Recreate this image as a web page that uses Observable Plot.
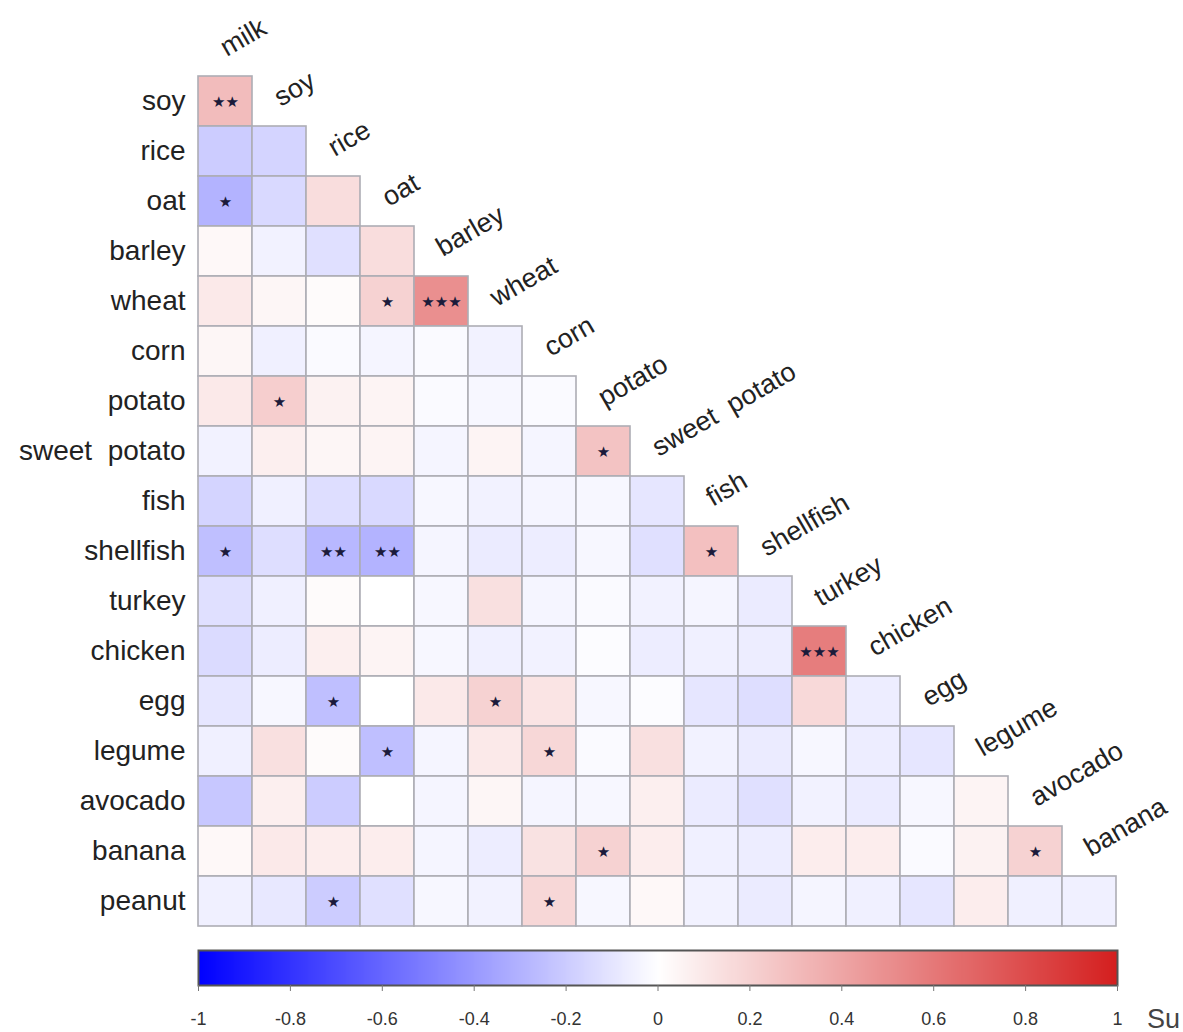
<!DOCTYPE html>
<html>
<head>
<meta charset="utf-8">
<script src="https://cdn.jsdelivr.net/npm/d3@7"></script>
<script src="https://cdn.jsdelivr.net/npm/@observablehq/plot@0.6"></script>
<style>
  html, body { margin: 0; padding: 0; background: #fff; }
  #wrap { position: relative; width: 1183px; height: 1032px; overflow: hidden; background: #fff; font-family: "Liberation Sans", Arial, sans-serif; }
  #wrap svg text { white-space: pre; }
  #main { position: absolute; left: 0; top: 0; }
  #bar { position: absolute; left: 0; top: 945px; }
  #su { position: absolute; left: 1147px; top: 1004px; font-size: 27px; color: #444; }
</style>
</head>
<body>
<div id="wrap">
  <div id="main"></div>
  <div id="bar"></div>
  <div id="su">Su</div>
</div>
<script>
const cols = ["milk","soy","rice","oat","barley","wheat","corn","potato","sweet  potato","fish","shellfish","turkey","chicken","egg","legume","avocado","banana"];
const rows = ["soy","rice","oat","barley","wheat","corn","potato","sweet  potato","fish","shellfish","turkey","chicken","egg","legume","avocado","banana","peanut"];

// lower-triangular correlation values, row i has i+1 entries (columns milk..)
const corr = [
  [0.30],
  [-0.20, -0.17],
  [-0.30, -0.15, 0.15],
  [0.03, -0.05, -0.12, 0.15],
  [0.10, 0.04, 0.02, 0.20, 0.50],
  [0.04, -0.06, -0.02, -0.04, -0.02, -0.05],
  [0.10, 0.22, 0.06, 0.05, -0.02, -0.03, -0.02],
  [-0.05, 0.07, 0.04, 0.05, -0.04, 0.05, -0.04, 0.27],
  [-0.17, -0.06, -0.13, -0.15, -0.03, -0.05, -0.04, -0.03, -0.10],
  [-0.25, -0.13, -0.28, -0.30, -0.04, -0.08, -0.07, -0.03, -0.12, 0.28],
  [-0.12, -0.06, 0.02, 0.00, -0.03, 0.14, -0.04, -0.02, -0.05, -0.04, -0.08],
  [-0.14, -0.07, 0.07, 0.05, -0.03, -0.06, -0.05, -0.01, -0.07, -0.06, -0.07, 0.58],
  [-0.10, -0.03, -0.25, 0.00, 0.10, 0.20, 0.12, -0.03, -0.01, -0.10, -0.13, 0.17, -0.07],
  [-0.06, 0.14, 0.02, -0.25, -0.04, 0.10, 0.18, -0.02, 0.14, -0.05, -0.08, -0.03, -0.07, -0.10],
  [-0.22, 0.07, -0.20, 0.00, -0.04, 0.04, -0.04, -0.03, 0.07, -0.08, -0.12, -0.05, -0.08, -0.03, 0.05],
  [0.03, 0.10, 0.08, 0.08, -0.04, -0.07, 0.13, 0.20, 0.08, -0.06, -0.07, 0.08, 0.08, -0.02, 0.06, 0.20],
  [-0.06, -0.09, -0.20, -0.12, -0.03, -0.05, 0.18, -0.03, 0.03, -0.05, -0.08, -0.04, -0.06, -0.10, 0.08, -0.06, -0.06]
];

// significance stars, same layout as corr
const sig = [
  ["**"],
  ["", ""],
  ["*", "", ""],
  ["", "", "", ""],
  ["", "", "", "*", "***"],
  ["", "", "", "", "", ""],
  ["", "*", "", "", "", "", ""],
  ["", "", "", "", "", "", "", "*"],
  ["", "", "", "", "", "", "", "", ""],
  ["*", "", "**", "**", "", "", "", "", "", "*"],
  ["", "", "", "", "", "", "", "", "", "", ""],
  ["", "", "", "", "", "", "", "", "", "", "", "***"],
  ["", "", "*", "", "", "*", "", "", "", "", "", "", ""],
  ["", "", "", "*", "", "", "*", "", "", "", "", "", "", ""],
  ["", "", "", "", "", "", "", "", "", "", "", "", "", "", ""],
  ["", "", "", "", "", "", "", "*", "", "", "", "", "", "", "", "*"],
  ["", "", "*", "", "", "", "*", "", "", "", "", "", "", "", "", "", ""]
];

const barTicks = [-1, -0.8, -0.6, -0.4, -0.2, 0, 0.2, 0.4, 0.6, 0.8, 1];
const palette = ["#0000ff", "#ffffff", "#d41f1f"];

const cells = [];
rows.forEach((r, i) => {
  corr[i].forEach((v, j) => {
    cells.push({row: r, col: cols[j], r: v, s: sig[i][j] ? "★".repeat(sig[i][j].length) : ""});
  });
});
const colLab = cols.map((c, j) => ({col: c, row: rows[j]}));

const colorScale = {type: "linear", domain: [-1, 0, 1], range: palette, clamp: true};

const main = Plot.plot({
  width: 1183,
  height: 945,
  marginLeft: 197,
  marginRight: 67,
  marginTop: 70,
  marginBottom: 13,
  style: {fontFamily: "'Liberation Sans', Arial, sans-serif", color: "#222", background: "transparent"},
  x: {domain: cols, padding: 0, axis: null},
  y: {domain: rows, padding: 0, axis: null},
  color: colorScale,
  marks: [
    Plot.cell(cells, {x: "col", y: "row", fill: "r", stroke: "#adadb5", strokeWidth: 1.6, inset: 0}),
    Plot.text(cells, {x: "col", y: "row", text: "s", fill: "#1b1b3b", fontSize: 15, letterSpacing: 0.5, fontFamily: "DejaVu Sans", dy: 1}),
    Plot.axisY({tickSize: 0, tickPadding: 12, fontSize: 28, label: null, fill: "#222"}),
    Plot.text(colLab, {x: "col", y: "row", text: "col", rotate: -30, textAnchor: "start", dx: -3, dy: -52, fontSize: 27, fill: "#222"})
  ]
});
document.getElementById("main").appendChild(main);

const bar = Plot.plot({
  width: 1183,
  height: 87,
  marginLeft: 198,
  marginRight: 66,
  marginTop: 5,
  marginBottom: 47,
  style: {fontFamily: "'Liberation Sans', Arial, sans-serif", color: "#333", background: "transparent"},
  x: {domain: [-1, 1]},
  y: {domain: [0, 1], axis: null},
  color: colorScale,
  marks: [
    Plot.raster({x1: -1, x2: 1, y1: 0, y2: 1, width: 460, height: 1, fill: (x, y) => x, imageRendering: "auto"}),
    Plot.frame({stroke: "#555", strokeWidth: 2}),
    Plot.axisX({ticks: barTicks, tickSize: 6, tickPadding: 21, fontSize: 18, label: null, stroke: "#777", tickFormat: d => String(d).replace("−", "-")})
  ]
});
document.getElementById("bar").appendChild(bar);
</script>
</body>
</html>
